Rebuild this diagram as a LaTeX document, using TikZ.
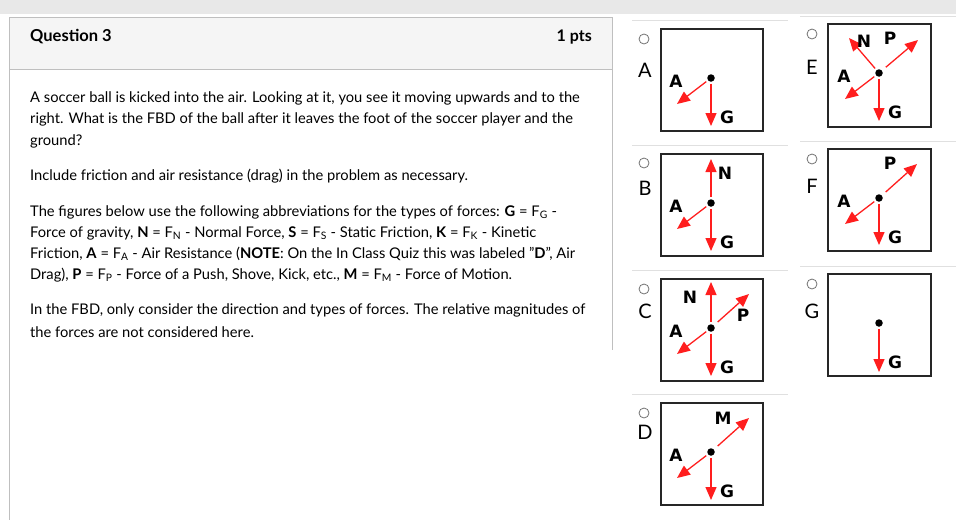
\documentclass[tikz,border=0pt]{standalone}
\usepackage{fontspec}
\setmainfont{Lato}
\newfontfamily\labfont{DejaVu Sans}
\usetikzlibrary{arrows.meta}
\definecolor{fred}{RGB}{255,30,30}
\begin{document}
\begin{tikzpicture}[x=1pt,y=-1pt,
  txt/.style={anchor=west,inner sep=0pt,font=\fontsize{14.7}{16}\selectfont},
  frame/.style={draw=black!85,line width=2.6pt},
  force/.style={draw=fred,line width=1.3pt,-{Triangle[length=13pt,width=11pt]},shorten <=2pt},
  dot/.style={circle,fill=black,inner sep=0pt,minimum size=7.5pt},
  flab/.style={font=\labfont\bfseries\fontsize{17}{17}\selectfont,inner sep=0pt},
  radio/.style={circle,draw=black!55,line width=0.8pt,inner sep=0pt,minimum size=10pt},
  optl/.style={font=\fontsize{20}{20}\selectfont,inner sep=0pt},
  sep/.style={draw=black!12,line width=1pt}]
\useasboundingbox (0,0) rectangle (956,520);
\fill[black!9] (0,0) rectangle (956,14);
% question panel
\fill[black!4] (9,17) rectangle (612,69);
\draw[black!25,line width=1pt] (9,17) -- (612,17) -- (612,350);
\draw[black!25,line width=1pt] (9,17) -- (9,520);
\draw[black!25,line width=1pt] (9,69) -- (612,69);
\node[txt,font=\bfseries\fontsize{16.5}{18}\selectfont] (q) at (30,37) {Question 3};
\node[anchor=east,inner sep=0pt,font=\bfseries\fontsize{16}{18}\selectfont] (pts) at (592,37) {1 pts};
\node[txt] (l1) at (30,98) {A soccer ball is kicked into the air. Looking at it, you see it moving upwards and to the};
\node[txt] (l2) at (30,119) {right. What is the FBD of the ball after it leaves the foot of the soccer player and the};
\node[txt] (l3) at (30,141) {ground?};
\node[txt] (l4) at (30,176) {Include friction and air resistance (drag) in the problem as necessary.};
\node[txt] (l5) at (30,212) {The figures below use the following abbreviations for the types of forces: \textbf{G} = F\textsubscript{G} -};
\node[txt] (l6) at (30,233) {Force of gravity, \textbf{N} = F\textsubscript{N} - Normal Force, \textbf{S} = F\textsubscript{S} - Static Friction, \textbf{K} = F\textsubscript{K} - Kinetic};
\node[txt] (l7) at (30,254) {Friction, \textbf{A} = F\textsubscript{A} - Air Resistance (\textbf{NOTE}: On the In Class Quiz this was labeled "\textbf{D}", Air};
\node[txt] (l8) at (30,275) {Drag), \textbf{P} = F\textsubscript{P} - Force of a Push, Shove, Kick, etc., \textbf{M} = F\textsubscript{M} - Force of Motion.};
\node[txt] (l9) at (30,310) {In the FBD, only consider the direction and types of forces. The relative magnitudes of};
\node[txt] (l10) at (30,332) {the forces are not considered here.};
% separators
\foreach \y in {20,145,270,394} \draw[sep] (632,\y) -- (788,\y);
\foreach \y in {16,141,266} \draw[sep] (800,\y) -- (956,\y);
% ---- A
\node[radio] (rA) at (644,39) {}; \node[optl] (oA) at (645,70) {A};
\draw[frame] (661,29) rectangle (763,131);
\node[dot] (dA) at (711,78) {};
\coordinate (aA) at (677,104); \coordinate (gA) at (711,126);
\draw[force] (dA) -- (aA); \draw[force] (dA) -- (gA);
\node[flab] (tAa) at (676,81) {A}; \node[flab] (tAg) at (727,117) {G};
% ---- B
\node[radio] (rB) at (644,163) {}; \node[optl] (oB) at (645,188) {B};
\draw[frame] (661,154) rectangle (763,256);
\node[dot] (dB) at (711,203) {};
\coordinate (aB) at (677,229); \coordinate (gB) at (711,251); \coordinate (nB) at (711,159);
\draw[force] (dB) -- (aB); \draw[force] (dB) -- (gB); \draw[force] (dB) -- (nB);
\node[flab] (tBa) at (676,206) {A}; \node[flab] (tBg) at (727,242) {G}; \node[flab] (tBn) at (725,173) {N};
% ---- C
\node[radio] (rC) at (644,289) {}; \node[optl] (oC) at (645,311) {C};
\draw[frame] (661,279) rectangle (763,381);
\node[dot] (dC) at (711,328) {};
\coordinate (aC) at (677,354); \coordinate (gC) at (711,376); \coordinate (nC) at (711,282); \coordinate (pC) at (749,294);
\draw[force] (dC) -- (aC); \draw[force] (dC) -- (gC); \draw[force] (dC) -- (nC); \draw[force,shorten <=5pt] (dC) -- (pC);
\node[flab] (tCa) at (676,331) {A}; \node[flab] (tCg) at (727,367) {G}; \node[flab] (tCn) at (690,297) {N}; \node[flab] (tCp) at (743,315) {P};
% ---- D
\node[radio] (rD) at (644,413) {}; \node[optl] (oD) at (645,432) {D};
\draw[frame] (661,403) rectangle (763,505);
\node[dot] (dD) at (711,452) {};
\coordinate (aD) at (677,478); \coordinate (gD) at (711,500); \coordinate (mD) at (749,418);
\draw[force] (dD) -- (aD); \draw[force] (dD) -- (gD); \draw[force,shorten <=5pt] (dD) -- (mD);
\node[flab] (tDa) at (676,455) {A}; \node[flab] (tDg) at (727,491) {G}; \node[flab] (tDm) at (723,418) {M};
% ---- E
\node[radio] (rE) at (812,34) {}; \node[optl] (oE) at (812,67) {E};
\draw[frame] (828,24) rectangle (931,127);
\node[dot] (dE) at (879,73) {};
\coordinate (aE) at (845,99); \coordinate (gE) at (879,121); \coordinate (nE) at (849,38); \coordinate (pE) at (918,40);
\draw[force] (dE) -- (aE); \draw[force] (dE) -- (gE); \draw[force] (dE) -- (nE); \draw[force,shorten <=5pt] (dE) -- (pE);
\node[flab] (tEa) at (844,76) {A}; \node[flab] (tEg) at (895,112) {G}; \node[flab] (tEn) at (864,41) {N}; \node[flab] (tEp) at (890,38) {P};
% ---- F
\node[radio] (rF) at (812,159) {}; \node[optl] (oF) at (812,186) {F};
\draw[frame] (828,149) rectangle (931,251);
\node[dot] (dF) at (879,198) {};
\coordinate (aF) at (845,224); \coordinate (gF) at (879,245); \coordinate (pF) at (917,164);
\draw[force] (dF) -- (aF); \draw[force] (dF) -- (gF); \draw[force,shorten <=5pt] (dF) -- (pF);
\node[flab] (tFa) at (844,201) {A}; \node[flab] (tFg) at (895,237) {G}; \node[flab] (tFp) at (890,163) {P};
% ---- G
\node[radio] (rG) at (812,284) {}; \node[optl] (oG) at (812,311) {G};
\draw[frame] (828,274) rectangle (931,376);
\node[dot] (dG) at (879,323) {};
\coordinate (gG) at (879,372);
\draw[force] (dG) -- (gG);
\node[flab] (tGg) at (895,362) {G};
\end{tikzpicture}
\end{document}
